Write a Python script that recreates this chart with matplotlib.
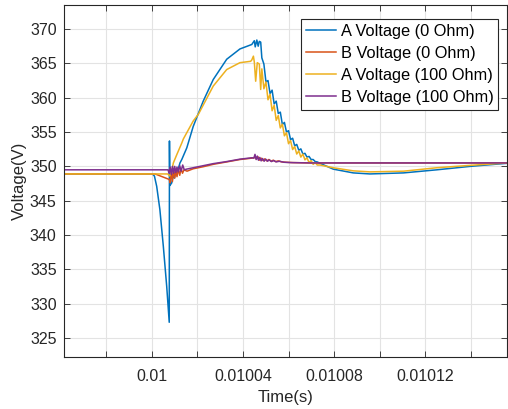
import numpy as np
import matplotlib
matplotlib.use('Agg')
import matplotlib.pyplot as plt

# time in microseconds, voltages in V
t_a0 = [9961.7, 10000.3, 10001.2, 10002.2, 10003.6, 10005.1, 10006.6, 10007.7, 10007.8, 10007.95,
        10008.8, 10009.4, 10010.0, 10010.6, 10011.2, 10012.4, 10013.2, 10015.4, 10018.2, 10022.6,
        10027.0, 10032.9, 10038.7, 10043.9, 10045.0, 10045.4, 10046.1, 10046.7, 10047.2, 10047.8,
        10048.3, 10049.2, 10050.1, 10051.0, 10051.9, 10052.8, 10053.7, 10054.6, 10055.5, 10056.4,
        10057.3, 10058.2, 10059.1, 10060.0, 10060.9, 10061.8, 10062.7, 10063.6, 10064.5, 10065.4,
        10066.3, 10067.2, 10068.1, 10069.0, 10069.9, 10070.8, 10071.7, 10072.6, 10073.8, 10079.6,
        10088.4, 10095.7, 10110.4, 10125.0, 10139.6, 10155.8]
v_a0 = [348.9, 348.9, 348.6, 347.1, 343.7, 338.4, 332.5, 327.3, 353.7, 347.2,
        347.6, 348.6, 348.3, 349.3, 349.1, 350.5, 351.0, 352.7, 355.8, 359.5,
        362.65, 365.6, 367.1, 367.75, 368.3, 367.4, 368.4, 367.5, 368.2, 368.1,
        365.8, 364.9, 362.3, 362.5, 360.6, 361.1, 359.1, 359.5, 357.7, 357.9,
        356.1, 356.4, 355.0, 355.2, 353.9, 354.1, 353.0, 353.2, 352.35, 352.55,
        351.8, 351.9, 351.35, 351.45, 351.0, 351.0, 350.7, 350.65, 350.45, 349.6,
        349.05, 348.9, 349.05, 349.5, 350.0, 350.45]

t_b0 = [9961.7, 10001.5, 10007.7, 10008.1, 10008.6, 10009.1, 10009.6, 10010.1, 10010.6, 10011.1,
        10011.7, 10012.3, 10012.9, 10013.5, 10014.2, 10015.5, 10018.2, 10022.6, 10027.0, 10032.9,
        10038.7, 10043.9, 10045.3, 10046.0, 10046.6, 10047.3, 10048.0, 10048.8, 10049.6, 10050.5,
        10051.4, 10052.3, 10053.3, 10054.3, 10055.5, 10057.0, 10059.0, 10062.0, 10070.0, 10155.8]
v_b0 = [348.9, 348.9, 348.1, 347.6, 349.3, 347.8, 349.6, 348.3, 349.5, 348.5,
        349.6, 348.7, 349.7, 349.0, 349.5, 349.3, 349.65, 349.95, 350.3, 350.65,
        351.0, 351.2, 351.3, 351.1, 351.4, 350.9, 351.2, 350.85, 351.1, 350.8,
        351.0, 350.75, 350.9, 350.7, 350.8, 350.65, 350.6, 350.55, 350.5, 350.5]

t_a100 = [9961.7, 10007.0, 10007.9, 10008.8, 10009.5, 10011.0, 10013.2, 10013.9, 10018.2, 10020.5,
          10027.0, 10032.9, 10038.7, 10043.4, 10043.9, 10044.6, 10045.0, 10045.6, 10046.3, 10047.2,
          10047.8, 10048.3, 10049.2, 10050.1, 10051.0, 10051.9, 10052.8, 10053.7, 10054.6, 10055.5,
          10056.4, 10057.3, 10058.2, 10059.1, 10060.0, 10060.9, 10061.8, 10062.7, 10063.6, 10064.5,
          10065.4, 10066.3, 10067.2, 10068.1, 10069.0, 10069.9, 10070.8, 10071.7, 10072.6, 10073.8,
          10079.6, 10088.4, 10095.7, 10110.4, 10125.0, 10139.6, 10155.8]
v_a100 = [348.9, 348.9, 348.6, 349.3, 350.5, 351.7, 353.4, 354.0, 356.6, 357.6,
          361.7, 364.1, 365.1, 365.3, 365.5, 366.05, 365.2, 362.4, 365.1, 364.9,
          361.2, 364.2, 361.3, 362.3, 359.7, 360.5, 358.1, 358.9, 356.7, 357.4,
          355.6, 356.15, 354.45, 354.9, 353.3, 353.75, 352.45, 352.9, 351.8, 352.25,
          351.35, 351.8, 350.95, 351.25, 350.55, 350.85, 350.3, 350.55, 350.2, 350.2,
          349.8, 349.35, 349.2, 349.3, 349.8, 350.15, 350.5]

t_b100 = [9961.7, 10007.2, 10007.6, 10008.1, 10008.6, 10009.1, 10009.6, 10010.1, 10010.6, 10011.1,
          10011.7, 10012.3, 10012.9, 10013.6, 10014.3, 10015.3, 10018.2, 10022.6, 10027.0, 10032.9,
          10038.7, 10043.9, 10044.8, 10045.3, 10045.8, 10046.3, 10046.8, 10047.4, 10048.0, 10048.6,
          10049.3, 10050.0, 10050.8, 10051.6, 10052.5, 10053.5, 10054.6, 10056.0, 10058.0, 10061.0,
          10070.0, 10155.8]
v_b100 = [349.5, 349.5, 349.0, 349.9, 348.8, 350.0, 349.0, 350.0, 349.1, 349.9,
          349.2, 350.1, 349.3, 350.2, 349.5, 349.6, 349.8, 350.1, 350.4, 350.7,
          351.05, 351.25, 351.2, 351.75, 351.0, 351.5, 350.9, 351.3, 350.8, 351.15,
          350.75, 351.05, 350.75, 350.95, 350.7, 350.85, 350.65, 350.75, 350.6, 350.55,
          350.5, 350.5]

labels = ['A Voltage (0 Ohm)', 'B Voltage (0 Ohm)', 'A Voltage (100 Ohm)', 'B Voltage (100 Ohm)']
colors = ['#0072BD', '#D95319', '#EDB120', '#7E2F8E']

xticks = [0.00998, 0.01, 0.01002, 0.01004, 0.01006, 0.01008, 0.0101, 0.01012, 0.01014]
xticklabels = ['', '0.01', '', '0.01004', '', '0.01008', '', '0.01012', '']
yticks = [325, 330, 335, 340, 345, 350, 355, 360, 365, 370]

plt.rcParams['font.family'] = ['Liberation Sans', 'DejaVu Sans']
plt.rcParams['font.size'] = 11.5

fig = plt.figure(figsize=(5.08, 4.09), dpi=100)
ax = fig.add_axes([0.1266, 0.1264, 0.8715, 0.8614])

series = [(t_a0, v_a0), (t_b0, v_b0), (t_a100, v_a100), (t_b100, v_b100)]
for (t, v), c, lab in zip(series, colors, labels):
    ax.plot(np.array(t) * 1e-6, v, color=c, lw=1.1, label=lab)

ax.set_xlim(0.0099617, 0.0101558)
ax.set_ylim(322.2, 373.5)
ax.set_xticks(xticks)
ax.set_xticklabels(xticklabels)
ax.set_yticks(yticks)
ax.grid(True, color='#e3e3e3', lw=0.8)
ax.set_axisbelow(True)
for s in ax.spines.values():
    s.set_color('#262626')
    s.set_linewidth(0.8)
ax.tick_params(direction='in', length=4, width=0.6, colors='#262626',
               top=True, right=True, labelsize=11.5)
ax.tick_params(axis='x', pad=8.5)
ax.tick_params(axis='y', pad=5.5)
ax.set_xlabel('Time(s)', color='#262626', fontsize=12, labelpad=4)
ax.set_ylabel('Voltage(V)', color='#262626', fontsize=12, labelpad=2)

leg = ax.legend(loc='upper right', bbox_to_anchor=(0.9804, 0.9594), borderaxespad=0,
                fancybox=False, framealpha=1, edgecolor='#262626', borderpad=0.3,
                handlelength=1.85, handletextpad=0.28, labelspacing=0.42, fontsize=11.8)
leg.get_frame().set_linewidth(0.8)

fig.savefig('out.png', dpi=100)
